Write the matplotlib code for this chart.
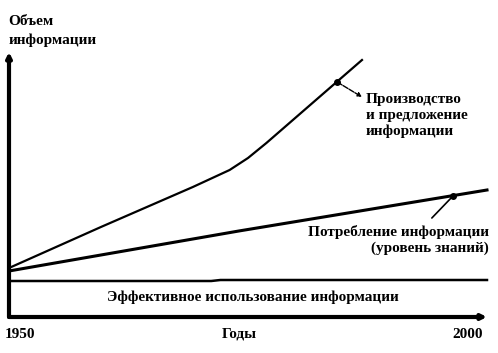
# schema: information volume growth 1950-2000
import matplotlib
matplotlib.use('Agg')
import matplotlib.pyplot as plt

plt.rcParams['font.family'] = ['Liberation Serif', 'DejaVu Serif']
plt.rcParams['font.weight'] = 'bold'

# data (years, arbitrary volume units)
prod_years = [1950, 1960, 1970, 1974, 1976, 1978, 1988.4]
prod_vals = [49, 90, 130, 147, 159, 174, 257]
cons_years = [1950, 1975, 2002]
cons_vals = [46, 86, 127]
eff_years = [1950, 1972, 1973, 2002]
eff_vals = [36, 36, 37, 37]
prod_mark = (1985.7, 235)
cons_mark = (1998.3, 121)

fig = plt.figure(figsize=(4.98, 3.53), dpi=100)
ax = fig.add_axes([9/498, 36/353, 478/498, 265/353])
ax.set_xlim(1950, 2002)
ax.set_ylim(0, 265)
ax.axis('off')

# axes with arrows
ax.annotate('', xy=(1950, 265), xytext=(1950, 0),
            arrowprops=dict(arrowstyle='-|>', lw=3, color='black', mutation_scale=7,
                            shrinkA=0, shrinkB=0))
ax.annotate('', xy=(2002, 0), xytext=(1950, 0),
            arrowprops=dict(arrowstyle='-|>', lw=3, color='black', mutation_scale=7,
                            shrinkA=0, shrinkB=0))

ax.plot(prod_years, prod_vals, color='black', lw=1.6, clip_on=False)
ax.plot(cons_years, cons_vals, color='black', lw=2.2, clip_on=False)
ax.plot(eff_years, eff_vals, color='black', lw=1.8, clip_on=False)

ax.plot(*prod_mark, 'o', color='black', ms=4)
ax.plot(*cons_mark, 'o', color='black', ms=4)

# leader lines
ax.annotate('', xy=(1988.4, 220), xytext=prod_mark,
            arrowprops=dict(arrowstyle='-|>', lw=1, color='black', ls=(0, (4, 1)),
                            mutation_scale=6, shrinkA=0, shrinkB=0))
ax.annotate('', xy=(1996.0, 99), xytext=cons_mark,
            arrowprops=dict(arrowstyle='-', lw=1.2, color='black', shrinkA=0, shrinkB=0))

fs = 11
ax.text(1949.9, 302, 'Объем\nинформации', fontsize=fs, va='top', ha='left',
        linespacing=1.52, clip_on=False)
ax.text(1988.8, 224, 'Производство\nи предложение\nинформации', fontsize=fs,
        va='top', ha='left', linespacing=1.25)
ax.text(2002.2, 92, 'Потребление информации\n(уровень знаний)', fontsize=fs,
        va='top', ha='right', linespacing=1.25, multialignment='right')
ax.text(1976.5, 20, 'Эффективное использование информации', fontsize=fs,
        va='center', ha='center')
ax.text(1951.2, -17, '1950', fontsize=fs, va='center', ha='center', clip_on=False)
ax.text(1975.1, -17, 'Годы', fontsize=fs, va='center', ha='center', clip_on=False)
ax.text(1999.9, -17, '2000', fontsize=fs, va='center', ha='center', clip_on=False)

fig.savefig('out.png', dpi=100)
